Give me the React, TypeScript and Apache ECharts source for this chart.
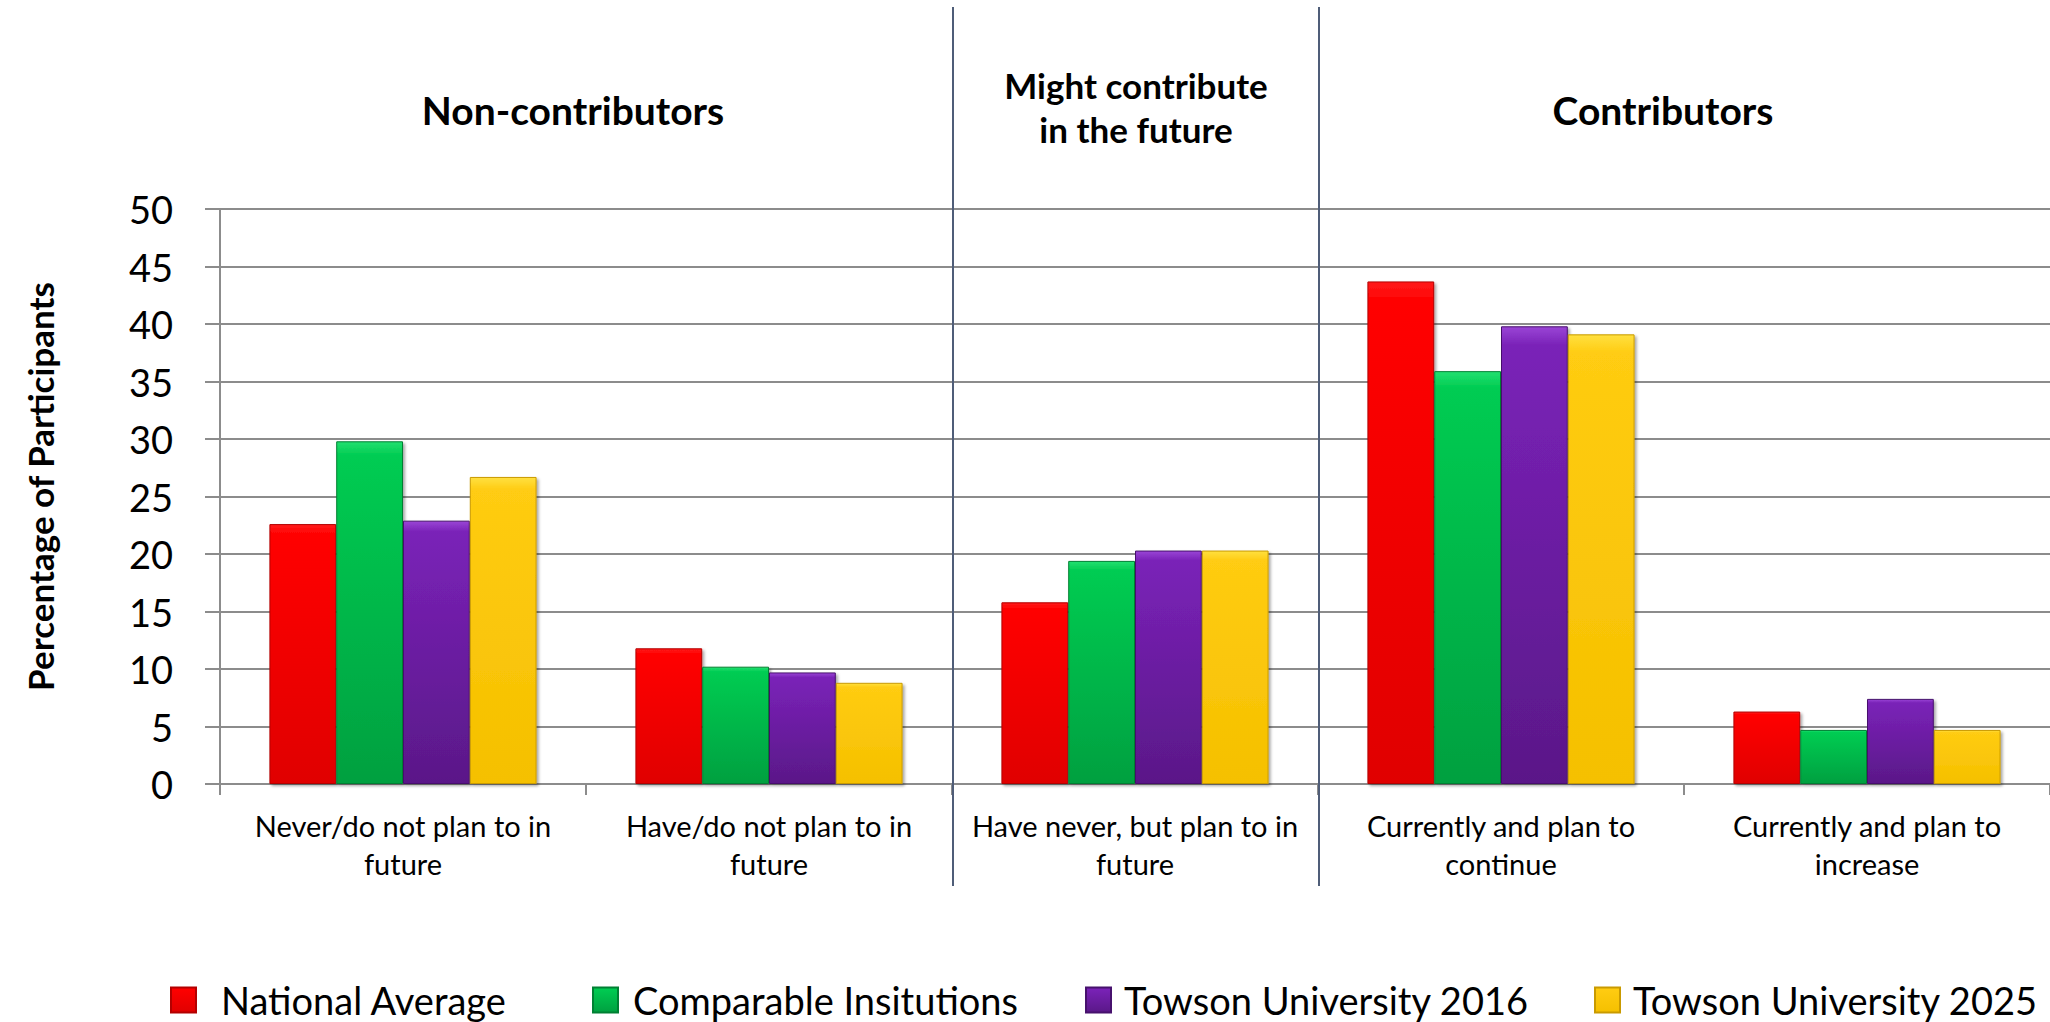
import React, { useEffect, useRef } from "react";
import * as echarts from "echarts";

const categories = [
  "Never/do not plan to in\nfuture",
  "Have/do not plan to in\nfuture",
  "Have never, but plan to in\nfuture",
  "Currently and plan to\ncontinue",
  "Currently and plan to\nincrease",
];
const seriesNames = [
  "National Average",
  "Comparable Insitutions",
  "Towson University 2016",
  "Towson University 2025",
];
const nationalAverage = [22.6, 11.8, 15.8, 43.7, 6.3];
const comparableInstitutions = [29.8, 10.2, 19.4, 35.9, 4.7];
const towson2016 = [22.9, 9.7, 20.3, 39.8, 7.4];
const towson2025 = [26.7, 8.8, 20.3, 39.1, 4.7];
const yTicks = { min: 0, max: 50, interval: 5 };
const groupHeaders = [
  { text: "Non-contributors", cx: 573, cy: 110, size: 39 },
  { text: "Might contribute\nin the future", cx: 1136, cy: 107, size: 35 },
  { text: "Contributors", cx: 1663, cy: 110, size: 39 },
];

const W = 2050;
const H = 1022;
const GRID_LEFT = 220;
const GRID_RIGHT = 0;
const GRID_TOP = 209;
const GRID_BOTTOM = 238;

const palette = [
  { top: "#ff1a1a", mid: "#ff0000", bot: "#e00000", edge: "#b30000" },
  { top: "#22e070", mid: "#00cc52", bot: "#00a040", edge: "#008033" },
  { top: "#9a45d6", mid: "#7a22b8", bot: "#5a1888", edge: "#47116d" },
  { top: "#ffe040", mid: "#ffcc12", bot: "#f5c000", edge: "#c99a00" },
];

const FONT = "Lato, 'Open Sans', sans-serif";

export default function App() {
  const ref = useRef<HTMLDivElement>(null);
  useEffect(() => {
    if (!ref.current) return;
    const chart = echarts.init(ref.current, undefined, { renderer: "svg", width: W, height: H });
    const data = [nationalAverage, comparableInstitutions, towson2016, towson2025];
    const plotW = W - GRID_LEFT - GRID_RIGHT;
    const catW = plotW / categories.length;
    const sepXs = [2, 3].map((k) => Math.round(GRID_LEFT + k * catW) + 1);

    const legendLefts = [170, 592, 1085, 1594];
    const legendPads = [20, 10, 8, 8];

    const option: any = {
      animation: false,
      backgroundColor: "#ffffff",
      textStyle: { fontFamily: FONT },
      grid: { left: GRID_LEFT, right: GRID_RIGHT, top: GRID_TOP, bottom: GRID_BOTTOM, containLabel: false },
      legend: seriesNames.map((n, i) => ({
        data: [n],
        left: legendLefts[i],
        top: 980,
        padding: 0,
        itemWidth: 25,
        itemHeight: 25,
        icon: "rect",
        selectedMode: false,
        textStyle: {
          fontSize: 38,
          lineHeight: 40,
          color: "#000",
          fontFamily: FONT,
          padding: [0, 0, 0, legendPads[i]],
        },
      })),
      xAxis: {
        type: "category",
        data: categories,
        axisLine: { show: true, lineStyle: { color: "#8c8c8c", width: 2 } },
        axisTick: { show: true, length: 11, lineStyle: { color: "#8c8c8c", width: 2 } },
        axisLabel: {
          fontSize: 29,
          lineHeight: 38,
          color: "#000",
          margin: 22,
          fontFamily: FONT,
          interval: 0,
          align: "center",
        },
        splitLine: { show: false },
      },
      yAxis: {
        type: "value",
        min: yTicks.min,
        max: yTicks.max,
        interval: yTicks.interval,
        name: "Percentage of Participants",
        nameLocation: "middle",
        nameRotate: 90,
        nameGap: 163,
        nameTextStyle: {
          fontSize: 35,
          fontWeight: "bold",
          color: "#000",
          fontFamily: FONT,
          padding: [0, 0, 0, 20],
        },
        axisLine: { show: true, lineStyle: { color: "#8c8c8c", width: 2 } },
        axisTick: { show: true, inside: false, length: 15, lineStyle: { color: "#8c8c8c", width: 2 } },
        axisLabel: { fontSize: 38, color: "#000", margin: 47, fontFamily: FONT },
        splitLine: { show: true, lineStyle: { color: "#8c8c8c", width: 2 } },
      },
      series: seriesNames.map((n, i) => ({
        name: n,
        type: "bar",
        data: data[i],
        barGap: "0%",
        barCategoryGap: "27%",
        itemStyle: {
          color: new echarts.graphic.LinearGradient(0, 0, 0, 1, [
            { offset: 0, color: palette[i].top },
            { offset: 0.04, color: palette[i].mid },
            { offset: 1, color: palette[i].bot },
          ]),
          borderColor: palette[i].edge,
          borderWidth: 1,
          shadowBlur: 3,
          shadowColor: "rgba(0,0,0,0.35)",
          shadowOffsetX: 2,
          shadowOffsetY: 2,
        },
      })),
      graphic: [
        ...sepXs.map((x) => ({
          type: "line",
          shape: { x1: x, y1: 7, x2: x, y2: 886 },
          style: { stroke: "#4f5d78", lineWidth: 2 },
          z: 10,
        })),
        ...groupHeaders.map((g) => ({
          type: "text",
          x: g.cx,
          y: g.cy,
          style: {
            text: g.text,
            fontSize: g.size,
            fontWeight: "bold",
            fontFamily: FONT,
            fill: "#000",
            align: "center",
            verticalAlign: "middle",
            lineHeight: 44,
          },
        })),
      ],
    };
    chart.setOption(option);
    return () => chart.dispose();
  }, []);
  return (
    <div
      ref={ref}
      style={{ position: "fixed", left: 0, top: 0, width: W, height: H, background: "#fff" }}
    />
  );
}
